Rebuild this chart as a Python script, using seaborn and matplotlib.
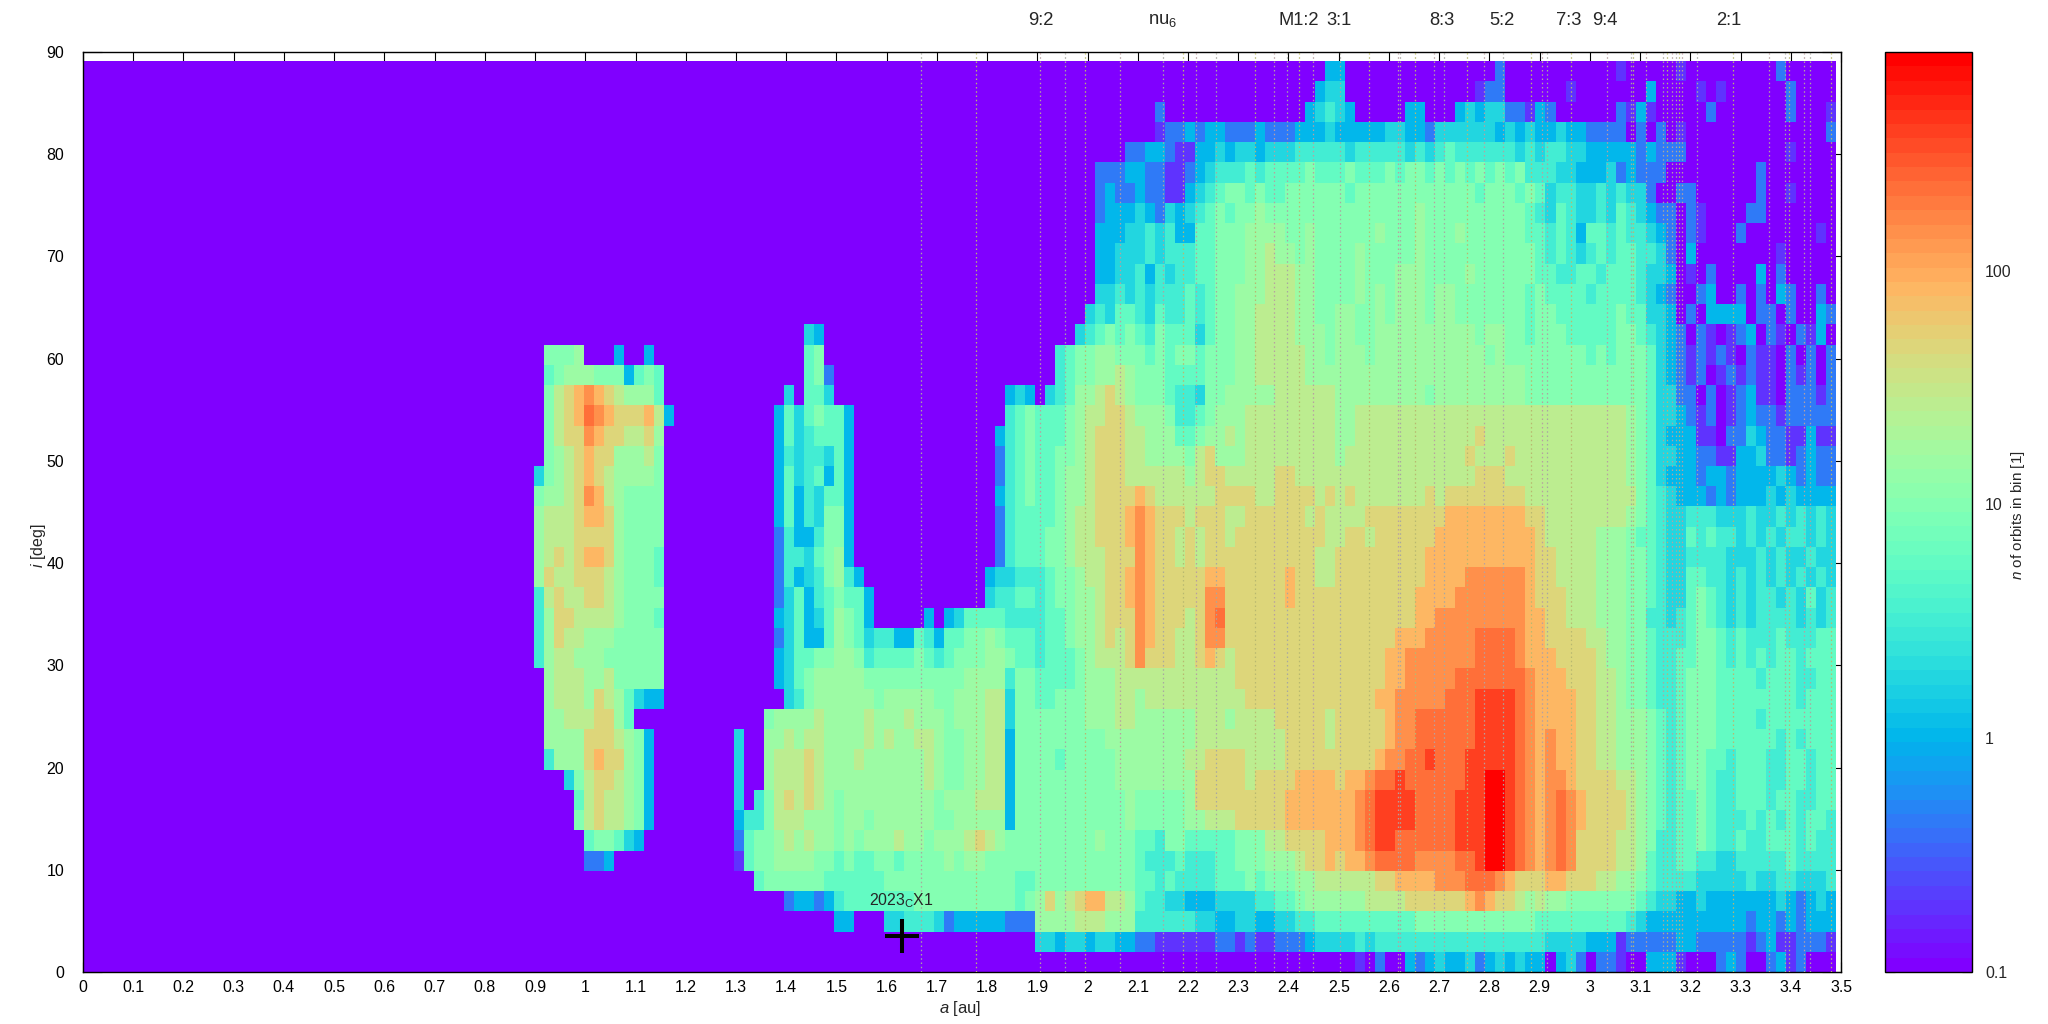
import numpy as np
import pandas as pd
import matplotlib
matplotlib.use("Agg")
import matplotlib.pyplot as plt
from matplotlib.colors import LogNorm
from matplotlib.ticker import FixedLocator, FixedFormatter, NullFormatter, LogLocator
import seaborn as sns

sns.set_style("white")
plt.rcParams["font.family"] = ["Liberation Sans", "DejaVu Sans"]
plt.rcParams["mathtext.fontset"] = "custom"
plt.rcParams["mathtext.rm"] = "Liberation Sans"
plt.rcParams["mathtext.it"] = "Liberation Sans:italic"
plt.rcParams["mathtext.default"] = "regular"

# orbit-count level of each hex digit used in the rows below
level_counts = [0.1, 0.2, 0.45, 1.0, 1.8, 3.2, 5.5, 10, 16, 27, 45, 80, 140, 230, 400, 800]

# Columns: groups of ten 0.02 au cells, first group starts at a = 0.90 au.
rows_high = [
 # i = 88 .. 62
 "0000000000 0000000000 0000000000 0000000000 0000000000 0000000000 0000000000 0000000003 3000000000 0000002000 0000000010 0000100000 0000200000",
 "0000000000 0000000000 0000000000 0000000000 0000000000 0000000000 0000000000 0000000034 4000000000 0000122000 0001000000 0300001010 0000020000",
 "0000000000 0000000000 0000000000 0000000000 0000000000 0000000000 0020000000 0000000345 4300000330 0034344221 3200000021 3100000200 0000020001",
 "0000000000 0000000000 0000000000 0000000000 0000000000 0000000000 0012232332 2232223334 3333344332 4444443434 3343322220 2020100000 0000000002",
 "0000000000 0000000000 0000000000 0000000000 0000000000 0000000002 2332113343 4434445555 5455555454 5655555545 4554433333 2322200000 0000010000",
 "0000000000 0000000000 0000000000 0000000000 0000000000 0000002223 3221123455 5656666766 6766676776 7676767675 5544333423 2220000000 0020000000",
 "0000000000 0000000000 0000000000 0000000000 0000000000 0000002322 3221134567 7676677777 7677777777 7777677767 6455445454 4200220000 0020010000",
 "0000000000 0000000000 0000000000 0000000000 0000000000 0000002333 4324345676 7787777777 7777777787 7777777776 5465445465 4322021000 0220000000",
 "0000000000 0000000000 0000000000 0000000000 0000000000 0000003334 4545336677 7888877877 7777877787 7787777776 6565366565 5432021000 2000000010",
 "0000000000 0000000000 0000000000 0000000000 0000000000 0000003344 4545556677 7889887877 7787777787 7777777777 6565456566 5542030000 0000100000",
 "0000000000 0000000000 0000000000 0000000000 0000000000 0000003344 5354556677 7889998877 7787778887 7778777777 6655665666 5443010200 0030200000",
 "0000000000 0000000000 0000000000 0000000000 0000000000 0000004454 5455565677 8889998877 7787878887 8877777776 7666656666 5432002300 2020320020",
 "0000000000 0000000000 0000000000 0000000000 0000000000 0000045466 5465565677 8899998877 8877878887 8877777776 7766666676 6443020333 3022020032",
 "0000000000 0000000000 0000000430 0000000000 0000000000 0000456767 6576664677 8899998887 8877888888 8888788776 7776666677 6543202101 2302102130",
]
rows_mid = [
 # i = 60 .. 32
 "0777800030 0300000000 0000000670 0000000000 0000000000 0056778877 7676776777 8899999887 8887888888 8888878777 7777767677 7643212121 0211020202",
 "0678887773 6760000000 0000000672 0000000000 0000000000 0056778898 7776666777 8899999888 8888888888 8888888887 7777777777 7643212012 1211021202",
 "079abcba98 8860000000 0000040664 0000000000 0000000343 0456889a98 7776554778 8888999999 8888888887 8888888887 7777777777 7644220201 2311022212",
 "079abdcbaa ab93000000 0000364676 6300000000 0000000567 6667899aa9 8887556788 8999999999 8899999999 9999999999 9999999998 7644321201 2322122222",
 "079aacbaa9 9a80000000 0000364566 6300000000 0000003567 666789aaa9 9888667889 8999999999 8899999999 9999a99999 9999999998 7643331102 2432211311",
 "0789abaa88 8970000000 0000354554 6300000000 0000002567 667789aaa9 9888879a88 8999999999 8999999999 999a999a99 9999999998 7644332211 3342212322",
 "4789aba988 8870000000 0000364563 6300000000 0000002567 667889aaa9 9999989aa9 9999aa9999 9999999999 9999aaa999 9999999998 7643332332 3333432322",
 "7889acb987 7770000000 0000363546 6300000000 0000003567 667889aaaa ba999999aa aa99aaaa9a 9a9999999a 9aaaaaaaa9 9999999999 7654333232 3334343333",
 "8999abba87 7770000000 0000363547 7300000000 0000002566 667899aaab cbaaa9aaa9 9aaaaaa9a9 999aaaaaaa abbbbbbbba a999999998 7654455544 4544545454",
 "8999aaaa87 7770000000 0000253357 7300000000 0000002566 677899aaab cbaa9a9aa9 aaaaaaaaa9 9aa9aaaaaa bbbbbbbbbb a999998887 6654465655 4545455454",
 "89a9abba87 7760000000 0000255467 8300000000 0000002566 6778999aaa cbaa9a9aaa aaaaaaaa99 aaaaaaaaab bbbbbbbbbb aa99998887 7654455554 4454544544",
 "8a99aaa987 7760000000 0000253457 8530000000 0000034455 5677899aab cbaaaaabba aaaaabaa99 aaaaaaaaab bbbccccccb aa99998887 7654466554 5454545454",
 "59a99aa987 7770000000 0000246356 7663000000 0000045566 5677889aab cbaaaaacca aaaaabaaaa aaaaaaaabb bbcccccccb aaa9998887 7654467654 5455454645",
 "58aa999987 7760000000 0000346346 8763000003 0346666555 5667889aaa cbaaa9acda aaaaaaaaaa aaaaaaaabb cccccccccb baa9998887 7554567654 5455554545",
 "58a9988877 7770000000 0000246336 8764553365 3667787666 5667889a9a cbaa99acca aaaaaaaaaa aaaaaabbbc ccccddddcb baaaa99887 7655567765 6555655566",
]
rows_low = [
 # i = 30 .. 0
 "5899888777 7770000000 0000346677 8875666676 5677788766 566678999a caaa99aba9 aaaaaaaaaa aaaaabbccc ccccddddcb bbaaaa9887 7655667765 6565665666",
 "0899988977 7770000000 0000346788 8887777777 7778888577 6666788899 9999999999 aaaaaaaaaa aaaaabbccc ccdddddddc bbbaaa9987 7655677766 6656665566",
 "089998a986 4330000000 0000045788 8888788888 7788899477 6677788899 8999999999 9aaaaaaaaa aaaabbcccc cdddeeeedc bbbbaa9987 7655677766 6666665666",
 "088999aa86 0000000000 0007888898 8889888988 8788899477 7777788899 8888889998 9999aaaaa9 aaaaabccdd ddddeeeedc bbbbaa9988 8765677766 6656666666",
 "08888aaa98 7300000000 4008898998 8889898899 8778899377 7777777888 8888889999 99999aaaa9 aaaaabccdd ddddeeeedc bcbbaa9988 8765677766 6666565666",
 "05888abaa8 7300000000 4008999a98 8898888889 8778899377 7767777788 8888899aaa a9999aaaaa aaaabccdde dddeeeeedc bcbbaa9988 8765677665 6665566566",
 "000479aa98 7300000000 4008999a98 8888888889 8778899377 7777777788 888888aaaa a9aaaabbbb abbcddeddd dddeeffedc bccbaaaa99 8765677655 6665566566",
 "000069a998 7300000000 40579a9a98 7888888888 7888999377 7777777778 777778aaaa aaaaabbbbb bbcdeeeedd ddeeeffedc bcdcbaaaa9 8765667655 6665665566",
 "000079a998 7300000000 3557999888 7887888888 7788888377 7777777778 7777788999 aaaaabbbbb bbcdeeeedd ddeeeffedc bcdcbaaaa9 8765667655 5656565665",
 "0000067764 3000000000 2677898988 7878889887 8889a98777 7777778777 6657766666 77799aaaab bbcdeedddd ddeeeffedc bcdcaaaa99 8755667655 6556665655",
 "0000022300 0000000000 1677888877 6766776777 7878877777 7777777777 6555655566 7778889aab abbcddddcc ccddeffedc bcdcaaaa99 8655665544 5555565555",
 "0000000000 0000000000 0067777776 6666677777 7777777766 7777777777 6656555566 6767778899 9999aabbbb cccdddcbaa abbaaa9988 7655554444 4544554445",
 "0000000000 0000000000 0000023323 5666666677 7777777767 8a89abb998 6554433344 4455667888 8889999aaa aaabcbaa98 9887777777 6544334333 3333432343",
 "0000000000 0000000000 0000000000 3300044555 4233333222 8888999888 5555554433 4433445566 6666666677 7777777777 6666666665 4333333333 3233232333",
 "0000000000 0000000000 0000000000 0000000000 0000000000 4434434433 2211111122 1211222344 4454555555 5555555555 5444433312 2222332222 2123112221",
 "0000000000 0000000000 0000000000 0000000000 0000000000 0000000000 0000000000 0000000000 0010200323 4334234343 3034202210 0333100023 2002312000",
]

# resonance locations [au]
resonance_a = [1.668, 1.778, 1.906, 1.955, 1.995, 2.064, 2.15, 2.19, 2.216, 2.256, 2.333, 2.371, 2.398,
               2.42, 2.449, 2.502, 2.561, 2.618, 2.622, 2.652, 2.69, 2.709, 2.755, 2.79, 2.828, 2.883,
               2.904, 2.914, 2.962, 3.034, 3.082, 3.086, 3.112, 3.146, 3.154, 3.163, 3.171, 3.177,
               3.184, 3.214, 3.284, 3.356, 3.389, 3.397, 3.427, 3.438, 3.481, 3.5]
resonance_names = ["9:2", "nu$_6$", "M1:2", "3:1", "8:3", "5:2", "7:3", "9:4", "2:1"]
resonance_label_a = [1.906, 2.15, 2.42, 2.50, 2.705, 2.824, 2.957, 3.03, 3.276]

x_ticks = [round(0.1 * k, 1) for k in range(36)]
y_ticks = list(range(0, 100, 10))
object_a, object_i = 1.63, 3.5
object_name = "2023$_{C}$X1"

W, H = 2048, 1024
LEFT, RIGHT, TOP, BOTTOM = 83, 1841, 52, 972
A_END, I_END = 3.49, 89.1
LEAD_COLS = 45


def parse(row):
    groups = [g.ljust(10, "0")[:10] for g in row.split()]
    digits = "0" * LEAD_COLS + "".join(groups)
    digits = digits.ljust(175, "0")[:175]
    return [level_counts[int(c, 16)] for c in digits]


rows = rows_high + rows_mid + rows_low
grid = np.array([parse(r) for r in rows[::-1]], dtype=float)
ny, nx = grid.shape
cell_a, cell_i = A_END / nx, I_END / ny
frame = pd.DataFrame(grid)

fig = plt.figure(figsize=(W / 100, H / 100), dpi=100, facecolor="white")
ax = fig.add_axes([LEFT / W, 1 - BOTTOM / H, (RIGHT - LEFT) / W, (BOTTOM - TOP) / H])
cax = fig.add_axes([1885 / W, 1 - BOTTOM / H, 87 / W, (BOTTOM - TOP) / H])

cmap = plt.get_cmap("rainbow", 64)
sns.heatmap(frame, ax=ax, cbar_ax=cax, cmap=cmap, norm=LogNorm(vmin=0.1, vmax=860),
            xticklabels=False, yticklabels=False, rasterized=True)
ax.set_xlim(0, 3.5 / cell_a)
ax.set_ylim(0, 90 / cell_i)
ax.set_xlabel("")
ax.set_ylabel("")

for sp in ax.spines.values():
    sp.set_visible(True)
    sp.set_color("black")
    sp.set_linewidth(1.0)

for k, a in enumerate(resonance_a):
    ax.axvline(a / cell_a, color=["#a8a8a0", "#b8b870", "#b8a0a0"][k % 3], lw=0.9, ls=(0, (1.2, 2.2)), zorder=3)

ax.set_xticks([v / cell_a for v in x_ticks])
ax.set_xticklabels([f"{v:g}" for v in x_ticks], rotation=0)
ax.set_yticks([v / cell_i for v in y_ticks])
ax.set_yticklabels([str(v) for v in y_ticks], rotation=0)
ax.tick_params(axis="x", direction="in", length=7.2, width=0.8, top=True, bottom=True,
               labelsize=11.4, pad=5.5, color="black", labelcolor="black", zorder=5)
ax.tick_params(axis="y", direction="in", length=13.5, width=0.8, left=True, right=True,
               labelsize=11.4, pad=13.5, color="black", labelcolor="black", zorder=5)

fig.text(960 / W, 1 - 1008 / H, r"$\mathit{a}$ [au]", ha="center", va="center", fontsize=12)
fig.text(39 / W, 1 - 546 / H, r"$\mathit{i}$ [deg]", ha="center", va="center", rotation=90, fontsize=11.5)

for name, a in zip(resonance_names, resonance_label_a):
    ax.text(a / cell_a, 1.0 + (52 - 21) / (BOTTOM - TOP), name, transform=ax.get_xaxis_transform(),
            ha="center", va="center", fontsize=13.2, clip_on=False)

ax.plot([object_a / cell_a], [object_i / cell_i], marker="+", ms=24.5, mew=2.9, color="black", zorder=6)
ax.text(object_a / cell_a, 7.0 / cell_i, object_name, ha="center", va="center", fontsize=11.4, zorder=6)

cbar = ax.collections[0].colorbar
cbar.outline.set_visible(True)
cbar.outline.set_edgecolor("black")
cbar.outline.set_linewidth(1.0)
cax.yaxis.set_major_locator(FixedLocator([0.1, 1, 10, 100]))
cax.yaxis.set_major_formatter(FixedFormatter(["0.1", "1", "10", "100"]))
cax.yaxis.set_minor_locator(LogLocator(base=10, subs=range(2, 10), numticks=12))
cax.yaxis.set_minor_formatter(NullFormatter())
cax.tick_params(which="major", direction="in", length=7.2, width=0.8, left=True, right=True,
                labelsize=11.4, pad=9.5, color="black")
cax.tick_params(which="minor", direction="in", length=3.6, width=0.8, left=True, right=True, color="black")
fig.text(2018 / W, 1 - 515 / H, r"$\mathit{n}$ of orbits in bin [1]", ha="center", va="center",
         rotation=90, fontsize=11)

fig.savefig("out.png", dpi=100, facecolor="white")
